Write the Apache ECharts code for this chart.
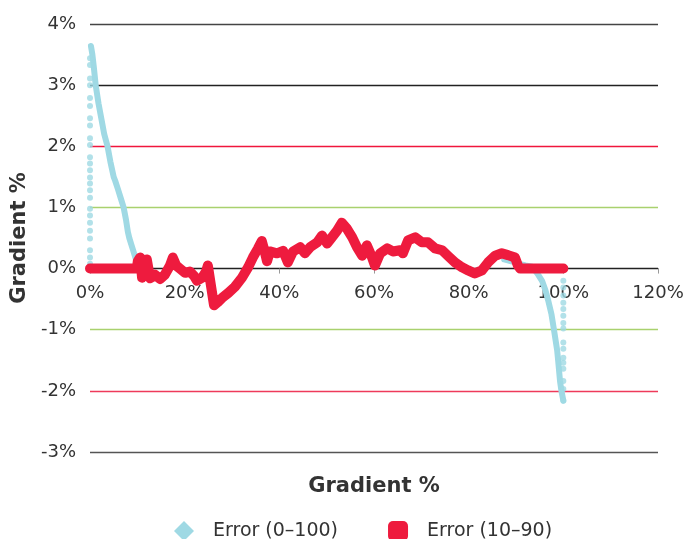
<!DOCTYPE html>
<html><head><meta charset="utf-8">
<script src="https://cdn.jsdelivr.net/npm/echarts@6/dist/echarts.min.js"></script>
<style>html,body{margin:0;padding:0;background:#fff}#c{width:687px;height:539px}</style>
</head><body><div id="c"></div>
<script>
// Tick labels
const xTicks = [0, 20, 40, 60, 80, 100, 120];
const yTicks = [-3, -2, -1, 0, 1, 2, 3, 4];
// Series names
const seriesNames = ['Error (0–100)', 'Error (10–90)'];
// Error (0–100): main curve, start (x %, y %)
const blueStartX = [0.2, 0.5, 0.8, 1.2, 1.8, 2.4, 3.0, 3.7, 4.3, 5.0, 5.3, 5.9, 6.5, 7.1, 7.6, 8.0, 8.3, 8.7, 9.1, 9.7, 10.2];
const blueStartY = [3.64, 3.5, 3.3, 3.0, 2.7, 2.45, 2.2, 2.0, 1.75, 1.5, 1.44, 1.3, 1.15, 1.0, 0.8, 0.6, 0.5, 0.4, 0.3, 0.15, 0.08];
// Error (0–100): end of curve
const blueEndX = [87.5, 89, 90.5, 92, 93.4, 94.5, 95.5, 96.2, 96.8, 97.5, 98.0, 98.7, 98.9, 99.3, 99.6, 100];
const blueEndY = [0.15, 0.12, 0.08, 0.05, 0.03, -0.08, -0.2, -0.35, -0.52, -0.75, -0.99, -1.34, -1.5, -1.84, -2.0, -2.16];
// Error (0–100): dots stacked at x = 0 and x = 100
const blueDotsAt0 = [0.08, 0.18, 0.30, 0.49, 0.62, 0.75, 0.87, 0.98, 1.16, 1.28, 1.39, 1.49, 1.61, 1.72, 1.82, 2.02, 2.13, 2.34, 2.46, 2.66, 2.79, 3.0, 3.11, 3.33, 3.44];
const blueDotsAt100 = [-0.20, -0.31, -0.44, -0.56, -0.66, -0.77, -0.89, -0.98, -1.21, -1.31, -1.46, -1.54, -1.64, -1.84, -1.97, -2.16];
// Error (10–90)
const redX = [0, 9.9, 10.1, 10.6, 11.0, 11.6, 12.0, 12.7, 13.7, 14.8, 15.8, 16.9, 17.5, 18.2, 19.0, 20.1, 21.1, 22.0, 22.6, 23.7, 24.5, 24.9, 25.6, 26.2, 27.0, 27.9, 29.2, 30.6, 32.1, 33.4, 34.4, 35.5, 36.3, 37.0, 37.4, 38.0, 39.5, 40.8, 41.8, 42.9, 44.4, 45.4, 46.5, 48.0, 49.0, 50.1, 51.1, 52.2, 53.2, 54.3, 55.4, 56.4, 57.5, 58.5, 59.6, 60.2, 61.3, 62.8, 64.0, 65.5, 66.1, 67.2, 68.7, 70.1, 71.4, 72.9, 74.4, 75.6, 77.1, 78.6, 79.9, 81.3, 82.8, 84.1, 85.6, 87.0, 88.3, 89.8, 90.4, 90.9, 100];
const redY = [0, 0, 0.12, 0.18, -0.15, -0.05, 0.15, -0.16, -0.1, -0.17, -0.1, 0.05, 0.18, 0.05, 0, -0.07, -0.05, -0.12, -0.2, -0.15, -0.05, 0.05, -0.3, -0.6, -0.55, -0.48, -0.4, -0.3, -0.15, 0.02, 0.18, 0.33, 0.45, 0.25, 0.12, 0.28, 0.25, 0.29, 0.1, 0.28, 0.35, 0.25, 0.35, 0.43, 0.54, 0.41, 0.51, 0.62, 0.75, 0.65, 0.51, 0.35, 0.21, 0.38, 0.18, 0.05, 0.25, 0.33, 0.28, 0.3, 0.25, 0.46, 0.51, 0.43, 0.43, 0.33, 0.3, 0.21, 0.1, 0.02, -0.03, -0.08, -0.03, 0.1, 0.21, 0.25, 0.22, 0.18, 0.05, 0, 0];

const BLUE = '#9fd9e4', RED = '#ee1b3e';
const pair = (xs, ys) => xs.map((x, i) => [x, ys[i]]);
const blueLine = pair(blueStartX, blueStartY).concat([[null, null]], pair(blueEndX, blueEndY));
const blueDots = blueDotsAt0.map(v => [0, v]).concat(blueDotsAt100.map(v => [100, v]));
const redLine = pair(redX, redY);

const font = 'DejaVu Sans';
const H = 539, TOP = 24, BOTTOM = 87;
const plotH = H - TOP - BOTTOM;
const yMin = yTicks[0], yMax = yTicks[yTicks.length - 1];
// move the x axis (line, ticks, labels) up to the zero level
const zeroOffset = plotH * (0 - yMin) / (yMax - yMin);

const chart = echarts.init(document.getElementById('c'));
chart.setOption({
  animation: false,
  textStyle: { fontFamily: font },
  grid: { left: 90, right: 29, top: TOP, bottom: BOTTOM, containLabel: false, outerBoundsMode: 'none' },
  legend: {
    top: 516, left: 169,
    itemWidth: 20, itemHeight: 20, itemGap: 50,
    textStyle: { fontFamily: font, fontSize: 19, color: '#333', padding: [0, 0, 0, 14] },
    data: [{ name: seriesNames[0], icon: 'diamond' }, { name: seriesNames[1], icon: 'roundRect' }]
  },
  xAxis: {
    type: 'value', min: xTicks[0], max: xTicks[xTicks.length - 1], interval: 20,
    position: 'bottom', offset: -zeroOffset,
    name: 'Gradient %', nameLocation: 'middle', nameGap: 207,
    nameTextStyle: { fontFamily: font, fontSize: 21, fontWeight: 'bold', color: '#333' },
    axisLine: { onZero: false, lineStyle: { color: '#222', width: 1 } },
    axisTick: { show: true, length: 5, lineStyle: { color: '#999' } },
    axisLabel: { fontFamily: font, fontSize: 18, color: '#333', margin: 16, formatter: v => v + '%' },
    splitLine: { show: false }
  },
  yAxis: {
    type: 'value', min: yMin, max: yMax, interval: 1,
    name: 'Gradient %', nameLocation: 'middle', nameGap: 56,
    nameTextStyle: { fontFamily: font, fontSize: 21, fontWeight: 'bold', color: '#333' },
    axisLine: { show: false }, axisTick: { show: false },
    axisLabel: { fontFamily: font, fontSize: 18, color: '#333', margin: 14, formatter: v => v + '%' },
    splitLine: { show: true, lineStyle: { width: 1.3, color: ['#555', '#ee3a5a', '#a9d16e', '#222', '#a9d16e', '#f0163c', '#222', '#444'] } }
  },
  series: [
    { name: seriesNames[0], type: 'line', data: blueLine, showSymbol: false, connectNulls: false,
      color: BLUE, lineStyle: { color: BLUE, width: 6, cap: 'round', join: 'round' }, z: 2 },
    { name: seriesNames[0], type: 'scatter', data: blueDots, symbol: 'circle', symbolSize: 6,
      itemStyle: { color: BLUE }, z: 2 },
    { name: seriesNames[1], type: 'line', data: redLine, showSymbol: false,
      color: RED, lineStyle: { color: RED, width: 10, cap: 'round', join: 'round' }, z: 3 }
  ]
});
</script></body></html>
